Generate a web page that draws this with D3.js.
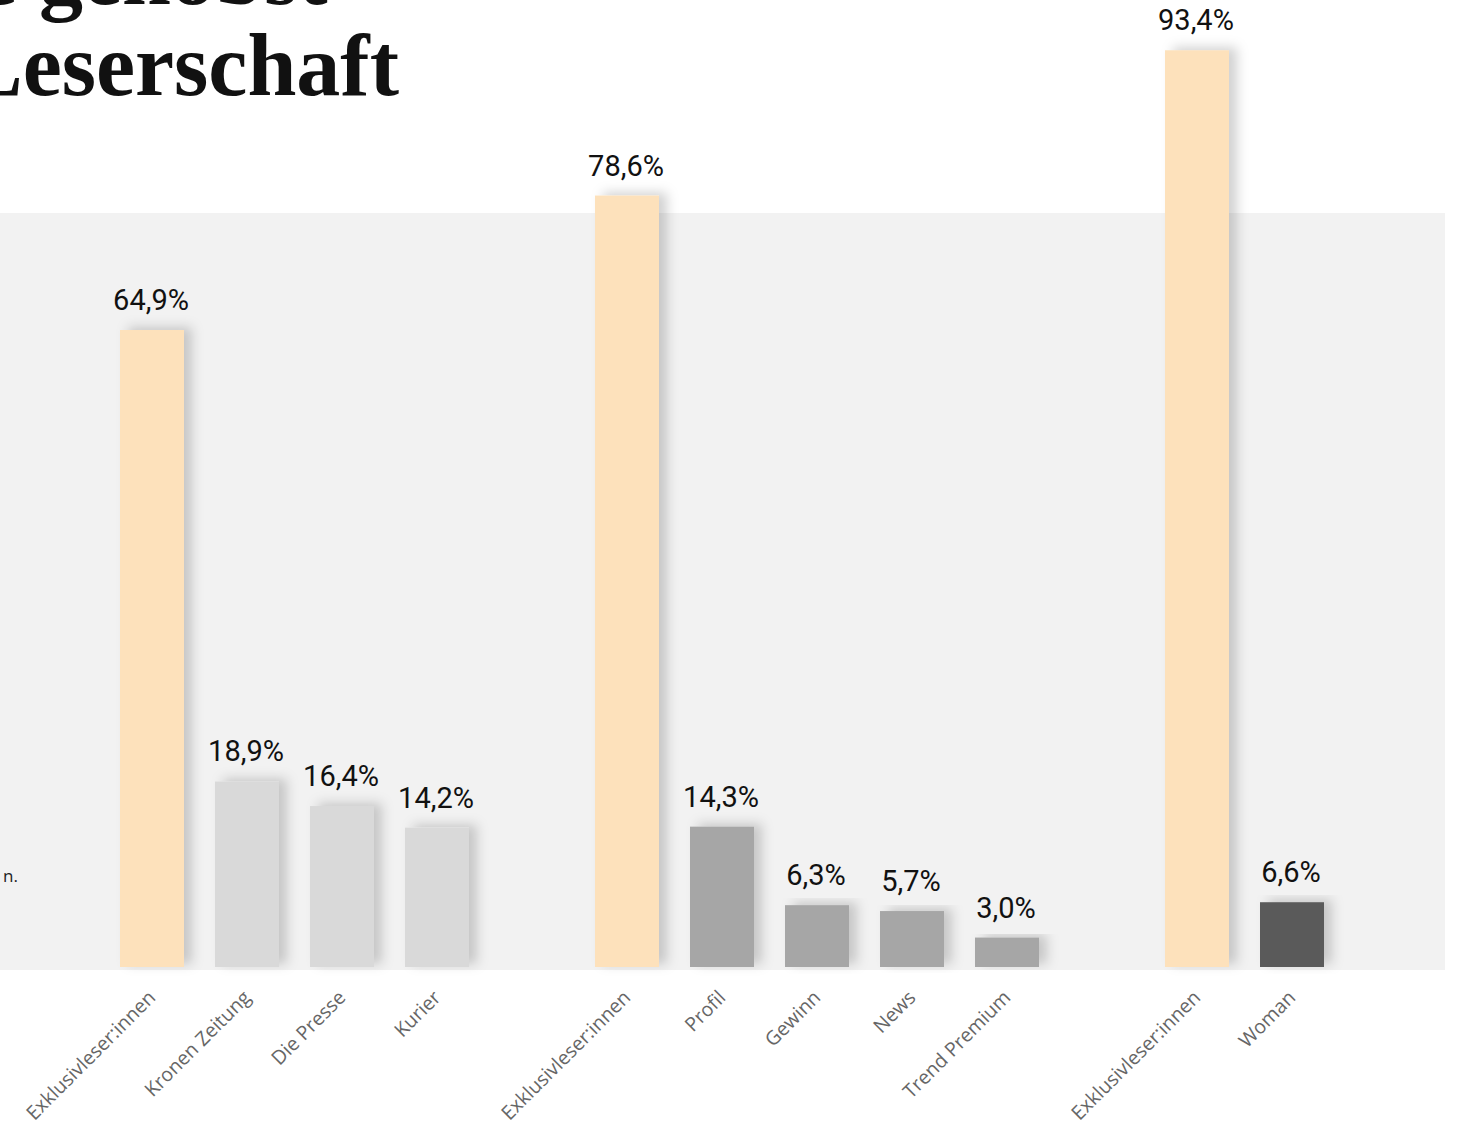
<!DOCTYPE html>
<html><head><meta charset="utf-8">
<script src="https://cdn.jsdelivr.net/npm/d3@7"></script>
<style>html,body{margin:0;padding:0;background:#fff;overflow:hidden}svg{display:block}</style>
</head><body><div id="chart"></div>
<script>
const titleLines = ["Die gehobst", "Leserschaft"];
const noteText = "n.";
const slots = ["g1a","g1b","g1c","g1d","gap1","g2a","g2b","g2c","g2d","g2e","gap2","g3a","g3b"];
const categories = ["Exklusivleser:innen","Kronen Zeitung","Die Presse","Kurier","",
  "Exklusivleser:innen","Profil","Gewinn","News","Trend Premium","",
  "Exklusivleser:innen","Woman"];
const values = [64.9,18.9,16.4,14.2,null,78.6,14.3,6.3,5.7,3.0,null,93.4,6.6];
const colors = ["#fde1bb","#d9d9d9","#d9d9d9","#d9d9d9",null,"#fde1bb","#a6a6a6","#a6a6a6","#a6a6a6","#a6a6a6",null,"#fde1bb","#5a5a5a"];
const fmt = v => d3.format(".1f")(v).replace(".", ",") + "%";

const W = 1457, H = 1127;
const svg = d3.select("#chart").append("svg").attr("width", W).attr("height", H);
const defs = svg.append("defs");
const f = defs.append("filter").attr("id","sh").attr("x","-50%").attr("y","-10%").attr("width","200%").attr("height","120%");
f.append("feDropShadow").attr("dx",8).attr("dy",-3).attr("stdDeviation",6)
  .attr("flood-color","#000").attr("flood-opacity",0.18);

// panel
svg.append("rect").attr("x",-10).attr("y",213).attr("width",1455).attr("height",757).attr("fill","#f2f2f2");

// title
const t = svg.append("g").attr("font-family","'Liberation Serif', serif").attr("font-weight","bold")
  .attr("font-size",88).attr("fill","#111");
t.append("text").attr("x",-110).attr("y",4).text(titleLines[0]);
t.append("text").attr("x",-36).attr("y",95).text(titleLines[1]);

svg.append("text").attr("x",18).attr("y",882).attr("text-anchor","end")
  .attr("font-family","'Open Sans', sans-serif").attr("font-size",17).attr("fill","#222").text(noteText);

const x = d3.scaleBand().domain(slots).range([120,1324]).paddingInner(0.3263).paddingOuter(0);
const y = d3.scaleLinear().domain([0,100]).range([967,-14.5]);

const data = slots.map((s,i)=>({s, c:categories[i], v:values[i], col:colors[i]})).filter(d=>d.v!==null);

svg.append("g").selectAll("rect").data(data).join("rect")
  .attr("x",d=>x(d.s)).attr("width",x.bandwidth())
  .attr("y",d=>y(d.v)).attr("height",d=>y(0)-y(d.v))
  .attr("fill",d=>d.col).attr("filter","url(#sh)");

svg.append("g").selectAll("text").data(data).join("text")
  .attr("x",d=>x(d.s)+x.bandwidth()/2 - 1).attr("y",d=>y(d.v)-20)
  .attr("text-anchor","middle").attr("font-family","Roboto, sans-serif").attr("font-size",29)
  .attr("fill","#111").text(d=>fmt(d.v));

// x axis labels
const ax = svg.append("g").attr("transform","translate(0,967)")
  .call(d3.axisBottom(x).tickSize(0).tickFormat((d,i)=>categories[i]));
ax.select(".domain").remove();
ax.selectAll("text").attr("font-family","'Open Sans', sans-serif").attr("font-size",19.5)
  .attr("font-weight",400)
  .attr("fill","#666").attr("text-anchor","end")
  .attr("transform","translate(0,27) rotate(-45)").attr("dy","0.35em").attr("y",0).attr("x",0);
</script></body></html>
